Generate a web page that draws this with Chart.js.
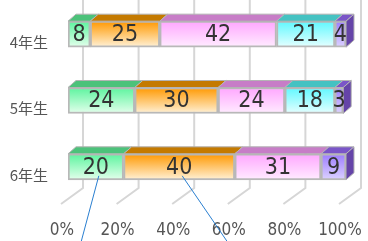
<!DOCTYPE html>
<html>
<head>
<meta charset="utf-8">
<script src="https://cdn.jsdelivr.net/npm/chart.js@4.4.1/dist/chart.umd.min.js"></script>
<style>
  html, body { margin: 0; padding: 0; background: #fff; }
  #wrap { width: 368px; height: 241px; }
</style>
</head>
<body>
<div id="wrap"><canvas id="gradeChart"></canvas></div>
<script>
// data
const grades = ['4年生', '5年生', '6年生'];
const seriesA = [8, 24, 20];
const seriesB = [25, 30, 40];
const seriesC = [42, 24, 31];
const seriesD = [21, 18, 0];
const seriesE = [4, 3, 9];
const tickLabels = ['0%', '20%', '40%', '60%', '80%', '100%'];

// colours: front gradient top/bottom, top face, side face
const palette = [
  { front: ['#5cf49e', '#e4ffec'], top: '#4cc27a', side: '#3ea866' },
  { front: ['#ff9800', '#fff2d8'], top: '#c47a00', side: '#a86800' },
  { front: ['#ffa6ff', '#ffecff'], top: '#c77dc7', side: '#a866a8' },
  { front: ['#5ff8ff', '#e6ffff'], top: '#45c2c2', side: '#38a6a6' },
  { front: ['#9c7cff', '#dcd2ff'], top: '#7a55c8', side: '#6544a8' }
];
const depth = { dx: 8, dy: 7 };
const narrow = '"Liberation Sans Narrow", "DejaVu Sans Condensed", sans-serif';

function frontFill(i) {
  return function(ctx) {
    const chart = ctx.chart;
    const p = palette[i];
    if (!chart.chartArea || ctx.dataIndex === undefined || !chart.scales.y) return p.front[0];
    const y = chart.scales.y.getPixelForValue(ctx.dataIndex);
    const g = chart.ctx.createLinearGradient(0, y - 13, 0, y + 13);
    g.addColorStop(0, p.front[0]);
    g.addColorStop(1, p.front[1]);
    return g;
  };
}

// back wall + floor lines behind bars
const wallGrid = {
  id: 'wallGrid',
  beforeDatasetsDraw(chart) {
    const c = chart.ctx;
    const xs = chart.scales.x;
    c.save();
    c.strokeStyle = '#d6d6d6';
    c.lineWidth = 2;
    xs.ticks.forEach(t => {
      const xf = xs.getPixelForValue(t.value);
      c.beginPath();
      c.moveTo(xf + 15, 0);
      c.lineTo(xf + 15, 188);
      c.lineTo(xf - 7, 204);
      c.stroke();
    });
    c.restore();
  }
};

// top faces, right side face and value labels
const bar3d = {
  id: 'bar3d',
  afterDatasetsDraw(chart) {
    const c = chart.ctx;
    const { dx, dy } = depth;
    c.save();
    c.lineWidth = 1;
    c.strokeStyle = '#b4b4b4';
    chart.data.labels.forEach((lab, r) => {
      let last = null;
      chart.data.datasets.forEach((ds, i) => {
        if (!ds.data[r]) return;
        const el = chart.getDatasetMeta(i).data[r];
        const left = Math.min(el.x, el.base), right = Math.max(el.x, el.base);
        const top = el.y - el.height / 2, bottom = el.y + el.height / 2;
        c.beginPath();
        c.moveTo(left, top);
        c.lineTo(left + dx, top - dy);
        c.lineTo(right + dx, top - dy);
        c.lineTo(right, top);
        c.closePath();
        c.fillStyle = palette[i].top;
        c.fill();
        c.stroke();
        last = { i, right, top, bottom };
      });
      if (last) {
        c.beginPath();
        c.moveTo(last.right, last.top);
        c.lineTo(last.right + dx, last.top - dy);
        c.lineTo(last.right + dx, last.bottom - dy);
        c.lineTo(last.right, last.bottom);
        c.closePath();
        c.fillStyle = palette[last.i].side;
        c.fill();
        c.stroke();
      }
    });

    c.fillStyle = '#333';
    c.font = '23px ' + narrow;
    c.textAlign = 'center';
    c.textBaseline = 'middle';
    chart.data.datasets.forEach((ds, i) => {
      chart.getDatasetMeta(i).data.forEach((el, r) => {
        if (!ds.data[r]) return;
        c.fillText(ds.data[r], (el.x + el.base) / 2, el.y + 1);
      });
    });
    c.restore();
  }
};

// the two blue leader lines under the 6年生 labels
const leaders = {
  id: 'leaders',
  afterDraw(chart) {
    const c = chart.ctx;
    const row = 2;
    const ends = [[0, -18], [1, 46]];
    c.save();
    c.strokeStyle = '#2a7fd0';
    c.lineWidth = 1;
    ends.forEach(([i, off]) => {
      const el = chart.getDatasetMeta(i).data[row];
      const x0 = (el.x + el.base) / 2 + 3;
      const y0 = el.y + 9;
      c.beginPath();
      c.moveTo(x0, y0);
      c.lineTo(x0 + off, 243);
      c.stroke();
    });
    c.restore();
  }
};

const series = [seriesA, seriesB, seriesC, seriesD, seriesE];

new Chart(document.getElementById('gradeChart'), {
  type: 'bar',
  data: {
    labels: grades,
    datasets: series.map((d, i) => ({
      data: d,
      backgroundColor: frontFill(i),
      borderColor: '#b8b8b8',
      borderWidth: 2,
      borderSkipped: false,
      barThickness: 26
    }))
  },
  options: {
    indexAxis: 'y',
    responsive: true,
    maintainAspectRatio: false,
    animation: false,
    layout: { padding: { top: 1, right: 22, left: 0, bottom: 0 } },
    plugins: { legend: { display: false }, tooltip: { enabled: false } },
    scales: {
      x: {
        stacked: true,
        min: 0,
        max: 100,
        grid: { display: false, drawTicks: false },
        border: { display: false },
        afterFit: s => { s.height = 41; s.paddingLeft = 0; s.paddingRight = 0; },
        ticks: {
          stepSize: 20,
          padding: 20,
          labelOffset: -6,
          color: '#555',
          font: { family: narrow, size: 17 },
          callback: (v, i) => tickLabels[i]
        }
      },
      y: {
        stacked: true,
        grid: { display: false, drawTicks: false },
        border: { display: false },
        afterFit: s => { s.width = 68; s.paddingTop = 0; s.paddingBottom = 0; },
        ticks: {
          padding: 20,
          labelOffset: 8,
          color: '#555',
          font: { family: '"Noto Sans CJK JP", sans-serif', size: 15 }
        }
      }
    }
  },
  plugins: [wallGrid, bar3d, leaders]
});
</script>
</body>
</html>
